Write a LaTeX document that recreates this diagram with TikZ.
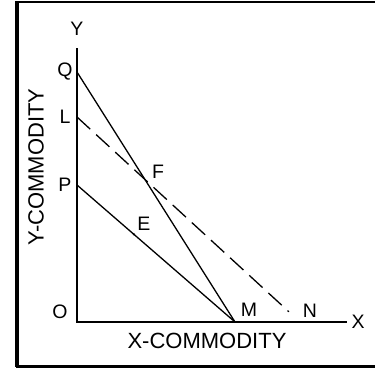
\documentclass[tikz,border=0pt]{standalone}
\usepackage{fontspec}
\setmainfont{Liberation Sans}
\usetikzlibrary{calc}
\begin{document}
\begin{tikzpicture}[x=1pt,y=-1pt,
  axis/.style={line width=1.5pt},
  budget/.style={line width=1.3pt},
  dashline/.style={line width=1.3pt, dash pattern=on 18pt off 8pt},
  frameline/.style={line width=3pt},
  ptlabel/.style={font=\fontsize{19.5}{19.5}\selectfont, inner sep=0pt},
  axlabel/.style={font=\fontsize{22}{22}\selectfont, inner sep=0pt}]
\useasboundingbox (0,0) rectangle (375,370);
% frame
\draw[line width=2pt] (376,2) -- (17,2);
\draw[frameline, line width=3.5pt] (17,1) -- (17,366.5);
\draw[frameline] (15.5,366.5) -- (376,366.5);
% points
\coordinate (O) at (77,322);
\coordinate (Ytop) at (77,48);
\coordinate (Xend) at (347,322);
\coordinate (Q) at (77,72);
\coordinate (L) at (77,117);
\coordinate (P) at (77,185);
\coordinate (M) at (235,322);
\coordinate (N) at (300,322);
\coordinate (F) at (intersection of Q--M and L--N);
\coordinate (E) at ($(P)!0.36!(M)$);
% axes
\draw[axis] (Ytop) -- (O) -- (Xend);
% lines
\draw[budget] (Q) -- (M);
\draw[budget] (P) -- (M);
\draw[dashline] (L) -- ($(L)!0.95!(N)$) coordinate (Nend);
\fill (E) circle (1.3pt);
% labels
\node[ptlabel] (lY) at (77,29) {Y};
\node[ptlabel] (lX) at (358,322) {X};
\node[ptlabel] (lQ) at (65,72) {Q};
\node[ptlabel] (lL) at (65,117) {L};
\node[ptlabel] (lP) at (65,185) {P};
\node[ptlabel] (lO) at (60,312) {O};
\node[ptlabel] (lM) at (249,310) {M};
\node[ptlabel] (lN) at (310,311) {N};
\node[ptlabel] (lF) at (158,172) {F};
\node[ptlabel] (lE) at (144,224) {E};
\node[axlabel] (lx) at (207,341) {X-COMMODITY};
\node[axlabel, rotate=90] (ly) at (36,167) {Y-COMMODITY};
\end{tikzpicture}
\end{document}
